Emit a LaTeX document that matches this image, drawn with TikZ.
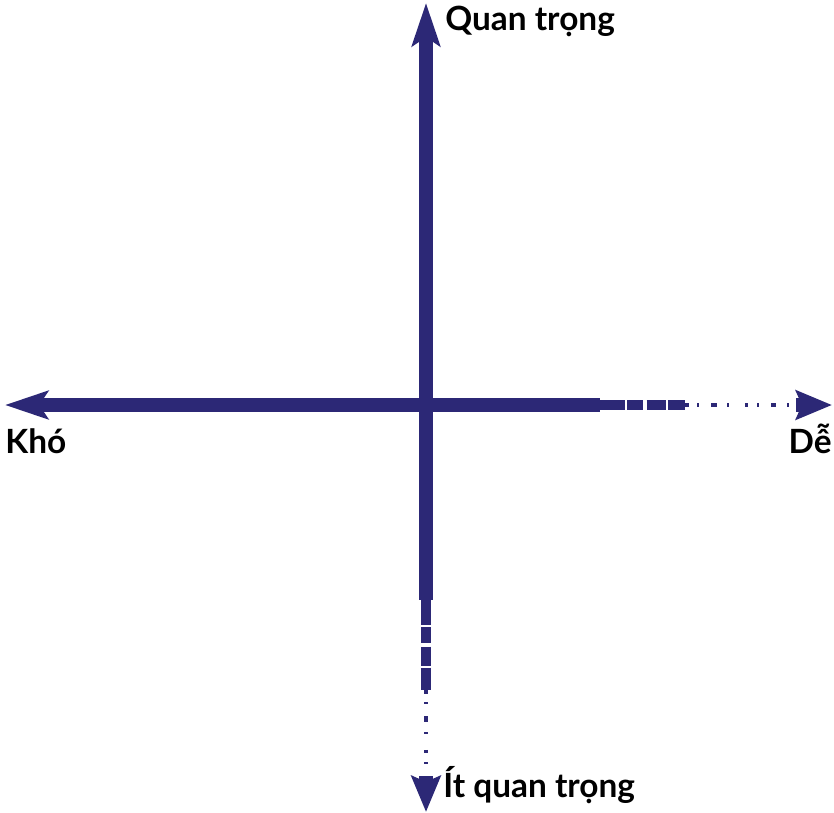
\documentclass[tikz,border=0pt]{standalone}
\usepackage{fontspec}
\setmainfont{Lato}
\usetikzlibrary{arrows.meta}
\definecolor{axisblue}{RGB}{44, 40, 118}

\tikzset{
  axis/.style={draw=axisblue, line width=0.28cm},
  axis tip/.style={-{Stealth[length=0.86cm, width=0.56cm, inset=0.18cm]}},
  short tip/.style={-{Stealth[length=0.72cm, width=0.58cm, inset=0.12cm]}},
  thin part/.style={draw=axisblue, line width=0.2cm,
    dash pattern=on 14pt off 1.5pt on 9pt off 2pt on 11pt off 1pt},
  faded/.style={draw=axisblue, line width=0.08cm,
    dash pattern=on 2pt off 5pt on 1pt off 7pt on 3pt off 6pt on 1pt off 9pt},
  axislabel/.style={font=\bfseries\fontsize{19}{21}\selectfont, inner sep=0pt},
}

\begin{document}
\begin{tikzpicture}[x=0.02cm, y=-0.02cm]
  \useasboundingbox (0,0) rectangle (834,812);

  % --- axis ends ---
  \coordinate (O) at (426,405);
  \coordinate (N) at (426,3);
  \coordinate (W) at (5,405);
  \coordinate (E) at (832,405);
  \coordinate (S) at (426,812);
  \coordinate (Et) at (600,405);
  \coordinate (Ef) at (685,405);
  \coordinate (Eb) at (796,405);
  \coordinate (St) at (426,600);
  \coordinate (Sf) at (426,690);
  \coordinate (Sb) at (426,776);

  % --- axes ---
  \draw[axis, axis tip] (O) -- (N);
  \draw[axis, axis tip] (O) -- (W);
  \draw[axis] (O) -- (Et);
  \draw[thin part] (Et) -- (Ef);
  \draw[faded] (Ef) -- (Eb);
  \draw[axis, short tip] (Eb) -- (E);
  \draw[axis] (O) -- (St);
  \draw[thin part] (St) -- (Sf);
  \draw[faded] (Sf) -- (Sb);
  \draw[axis, short tip] (Sb) -- (S);

  % --- labels ---
  \node[axislabel, anchor=base west] (imp) at (445,30) {Quan trọng};
  \node[axislabel, anchor=base west] (hard) at (5,453) {Khó};
  \node[axislabel, anchor=base east] (easy) at (832,453) {Dễ};
  \node[axislabel, anchor=base west] (less) at (443,797) {Ít quan trọng};
\end{tikzpicture}
\end{document}
